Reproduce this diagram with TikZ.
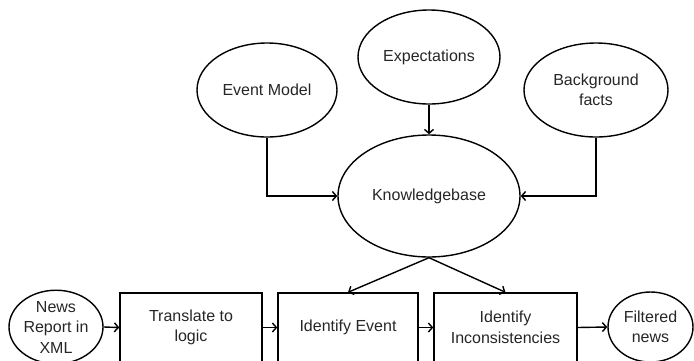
\documentclass[tikz,border=0pt]{standalone}
\usepackage{fontspec}
\setmainfont{Liberation Sans}
\usetikzlibrary{shapes.geometric,arrows.meta}
\begin{document}
\begin{tikzpicture}[x=1pt,y=-1pt,
  every node/.style={font=\fontsize{16}{20.5}\selectfont, text=black!85, align=center, inner sep=0pt},
  oval/.style={draw, ellipse, line width=1.4pt},
  proc/.style={draw, rectangle, line width=1.4pt},
  conn/.style={line width=1.4pt, -{Straight Barb[length=4pt,width=9pt]}}]
\useasboundingbox (0,0) rectangle (694,360);
\clip (0,0) rectangle (694,360);
% top ovals
\node[oval, minimum width=140pt, minimum height=94pt] (em) at (267,90) {Event Model};
\node[oval, minimum width=142pt, minimum height=94pt] (exp) at (429,57) {Expectations};
\node[oval, minimum width=144pt, minimum height=94pt] (bg) at (596,90) {Background\\facts};
\node[oval, minimum width=182pt, minimum height=122pt] (kb) at (429,196) {Knowledgebase};
% bottom row
\node[oval, minimum width=94pt, minimum height=70pt] (news) at (56,327) {News\\Report in\\XML};
\node[proc, minimum width=142pt, minimum height=69pt] (tl) at (191,327.5) {Translate to\\logic};
\node[proc, minimum width=140pt, minimum height=69pt] (ie) at (348,327.5) {Identify Event};
\node[proc, minimum width=143pt, minimum height=69pt] (ii) at (505.5,327.5) {Identify\\Inconsistencies};
\node[oval, minimum width=85pt, minimum height=70pt] (fn) at (650.5,327) {Filtered\\news};
% connectors
\draw[conn] (em.south) |- (kb.west);
\draw[conn] (bg.south) |- (kb.east);
\draw[conn] (exp.south) -- (kb.north);
\draw[conn] (kb.south) -- (ie.north);
\draw[conn] (kb.south) -- (ii.north);
\draw[conn] (news.east) -- (tl.west);
\draw[conn] (tl.east) -- (ie.west);
\draw[conn] (ie.east) -- (ii.west);
\draw[conn] (ii.east) -- (fn.west);
\end{tikzpicture}
\end{document}
